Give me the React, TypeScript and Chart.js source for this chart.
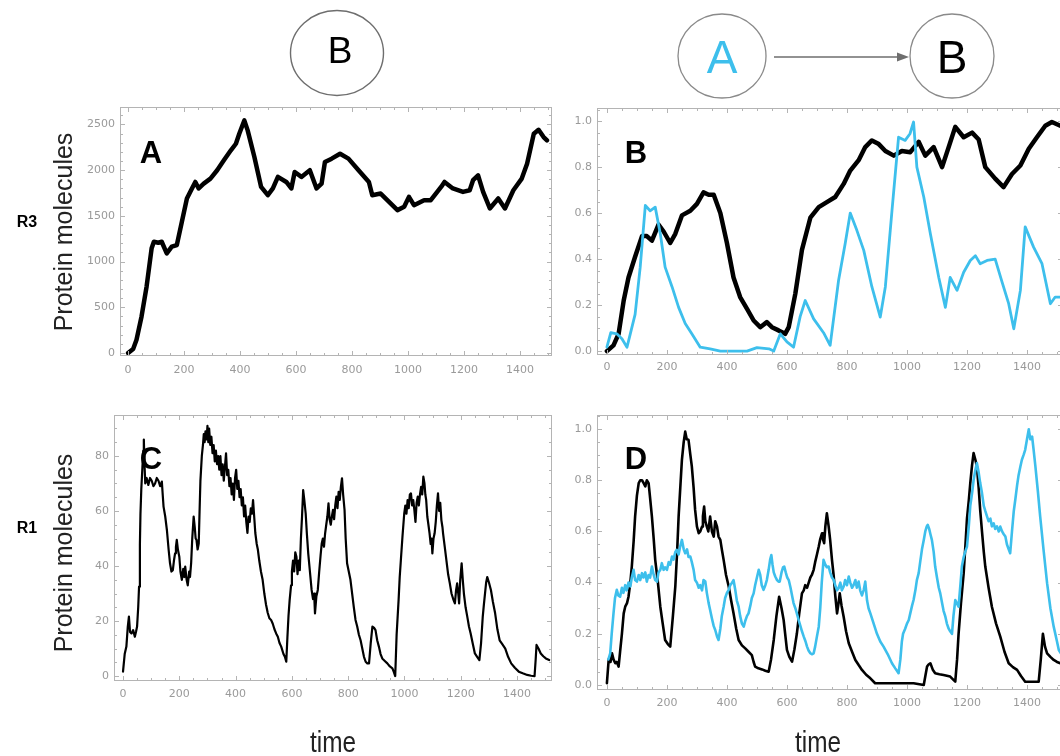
import React, { useEffect, useRef } from 'react';
import { Chart, registerables } from 'chart.js';

Chart.register(...registerables);

// ---------- tick labels ----------
const X_TICKS = [0, 200, 400, 600, 800, 1000, 1200, 1400];
const A_Y_TICKS = [0, 500, 1000, 1500, 2000, 2500];
const C_Y_TICKS = [0, 20, 40, 60, 80];
const FRAC_Y_TICKS = [0, 0.2, 0.4, 0.6, 0.8, 1.0];

// ---------- series: [time, value] ----------
const A_PROTEIN_B: [number, number][] = [
  [0, 0], [18, 44], [30, 145], [48, 400], [66, 727], [84, 1145], [92, 1217], [108, 1206], [120, 1217],
  [138, 1090], [156, 1163], [174, 1181], [192, 1435], [210, 1690], [228, 1800], [240, 1871], [252, 1800],
  [270, 1853], [294, 1908], [318, 1999], [342, 2108], [367, 2217], [385, 2289], [397, 2398], [415, 2544],
  [427, 2435], [451, 2144], [475, 1817], [499, 1726], [517, 1800], [535, 1926], [565, 1871], [583, 1800],
  [595, 1980], [619, 1926], [649, 1999], [673, 1800], [691, 1853], [703, 2090], [727, 2126], [757, 2180],
  [787, 2126], [823, 1999], [860, 1871], [872, 1726], [902, 1744], [932, 1653], [962, 1563], [986, 1599],
  [1003, 1708], [1021, 1617], [1057, 1672], [1081, 1672], [1118, 1817], [1130, 1871], [1160, 1800],
  [1196, 1762], [1220, 1780], [1232, 1890], [1250, 1944], [1268, 1762], [1292, 1581], [1322, 1690],
  [1346, 1581], [1376, 1780], [1406, 1908], [1425, 2071], [1449, 2398], [1466, 2442], [1484, 2362], [1496, 2326],
];

const B_PROTEIN_B: [number, number][] = [
  [0, 0], [22, 0.025], [39, 0.075], [56, 0.22], [72, 0.32], [94, 0.41], [117, 0.5], [133, 0.5], [150, 0.48],
  [172, 0.55], [189, 0.52], [211, 0.47], [228, 0.51], [250, 0.59], [278, 0.61], [300, 0.64], [322, 0.69],
  [339, 0.68], [356, 0.68], [378, 0.6], [400, 0.47], [422, 0.32], [444, 0.235], [467, 0.184], [489, 0.133],
  [511, 0.104], [533, 0.126], [550, 0.104], [572, 0.09], [594, 0.075], [606, 0.104], [628, 0.25], [650, 0.44],
  [678, 0.58], [706, 0.626], [733, 0.648], [761, 0.67], [789, 0.727], [811, 0.785], [839, 0.83], [861, 0.887],
  [883, 0.916], [906, 0.9], [928, 0.87], [956, 0.85], [983, 0.87], [1011, 0.865], [1039, 0.91], [1061, 0.85],
  [1089, 0.887], [1117, 0.8], [1139, 0.887], [1161, 0.975], [1189, 0.93], [1217, 0.95], [1239, 0.92],
  [1261, 0.8], [1294, 0.75], [1322, 0.713], [1350, 0.77], [1378, 0.807], [1406, 0.88], [1433, 0.93],
  [1461, 0.98], [1483, 0.996], [1511, 0.98],
];

const B_PROTEIN_A: [number, number][] = [
  [0, 0.017], [13, 0.08], [33, 0.075], [50, 0.054], [67, 0.017], [78, 0.075], [94, 0.16], [111, 0.365],
  [128, 0.633], [144, 0.61], [161, 0.626], [178, 0.51], [194, 0.365], [217, 0.28], [239, 0.19], [261, 0.12],
  [283, 0.075], [311, 0.017], [344, 0.01], [378, 0], [467, 0], [500, 0.015], [540, 0.01], [556, 0],
  [578, 0.075], [600, 0.04], [622, 0.017], [644, 0.15], [661, 0.22], [689, 0.14], [722, 0.08], [744, 0.025],
  [772, 0.307], [794, 0.467], [811, 0.6], [833, 0.525], [856, 0.438], [883, 0.28], [911, 0.148], [928, 0.28],
  [950, 0.61], [972, 0.93], [994, 0.916], [1010, 0.945], [1022, 0.996], [1033, 0.8], [1056, 0.67],
  [1078, 0.51], [1106, 0.32], [1128, 0.19], [1144, 0.32], [1167, 0.264], [1189, 0.343], [1211, 0.394],
  [1228, 0.415], [1244, 0.38], [1267, 0.394], [1294, 0.4], [1317, 0.3], [1339, 0.206], [1356, 0.097],
  [1378, 0.264], [1394, 0.54], [1422, 0.452], [1450, 0.38], [1478, 0.206], [1494, 0.235], [1511, 0.235],
];

const C_PROTEIN_B: [number, number][] = [
  [0, 1.6], [6, 8], [12, 10.7], [17, 18], [21, 21.6], [25, 16], [30, 15.5], [36, 16.7], [42, 14.3], [46, 16],
  [50, 18], [54, 25], [57, 32.5], [60, 48], [62, 59], [65, 68], [69, 76], [72, 82], [74, 86], [76, 78], [79, 70],
  [84, 72], [90, 69.5], [96, 72], [102, 71], [108, 69], [114, 70], [120, 72], [126, 71], [132, 69], [138, 70.7],
  [141, 66], [144, 61.6], [150, 58], [156, 53], [162, 46], [167, 41], [172, 38], [177, 38.5], [181, 42],
  [185, 44.6], [188, 47], [191, 49.5], [195, 46], [200, 43.4], [204, 38], [209, 35], [214, 39], [218, 36],
  [221, 39.8], [226, 35], [230, 33], [235, 38], [238, 36], [242, 41], [246, 50], [251, 58], [255, 54], [258, 50],
  [261, 49.5], [265, 46], [269, 48.2], [272, 60], [275, 71], [280, 80], [284, 84], [287, 88], [290, 85], [293, 89],
  [297, 86], [300, 91], [303, 85], [306, 90], [310, 84], [314, 87], [318, 81], [322, 84], [326, 78], [330, 82],
  [334, 77], [338, 80], [342, 75], [346, 80], [350, 73], [354, 77], [358, 71], [362, 76], [366, 81], [370, 73],
  [374, 75], [378, 69], [382, 72], [386, 66], [390, 70], [394, 64], [398, 72], [402, 75], [406, 68], [410, 71],
  [414, 65], [418, 68], [422, 62], [426, 65], [430, 58], [434, 62], [438, 56], [442, 52], [446, 58], [450, 56],
  [454, 61], [458, 59], [462, 64], [466, 58], [470, 52], [475, 48], [479, 46], [484, 42], [490, 38], [496, 35],
  [502, 30], [508, 26], [514, 23], [520, 21], [526, 20.4], [532, 19], [538, 17], [544, 15.5], [550, 14.3],
  [556, 12], [562, 10.7], [570, 8], [575, 7], [580, 5.2], [584, 14], [588, 22], [592, 27.6], [597, 33],
  [600, 38], [604, 42], [608, 38], [612, 45], [616, 43.4], [620, 37], [624, 42], [628, 38.5], [632, 50],
  [636, 58], [640, 67.6], [644, 64], [649, 59], [653, 52], [658, 44.6], [664, 38], [670, 31.3], [675, 28],
  [679, 30], [682, 22.8], [687, 29], [692, 31.3], [697, 38], [702, 44], [706, 48.2], [710, 50], [714, 47],
  [718, 51.9], [722, 55], [726, 58], [730, 62.8], [734, 57], [738, 55], [742, 58], [746, 60.4], [750, 57],
  [754, 62], [758, 65.2], [762, 61], [766, 67], [770, 64], [774, 68.8], [778, 71.9], [782, 66], [787, 60.4],
  [791, 50], [796, 41], [802, 38], [808, 35], [814, 30], [820, 25], [826, 20.4], [832, 18], [838, 15], [844, 13],
  [850, 10], [856, 7], [862, 5.2], [868, 4.6], [874, 4.6], [880, 12], [886, 18], [892, 17.5], [897, 16.7],
  [903, 13], [909, 10.7], [915, 8], [921, 6.4], [930, 5.5], [939, 4.6], [948, 3.5], [957, 2.8], [962, 1.5],
  [967, 0], [972, 15], [979, 27.6], [983, 36], [987, 42], [993, 51], [999, 59], [1003, 62], [1007, 59],
  [1011, 64], [1015, 61], [1019, 66], [1023, 66.4], [1027, 62], [1031, 64], [1035, 60.4], [1039, 56],
  [1043, 63], [1047, 65.2], [1051, 62], [1055, 66], [1059, 68.8], [1063, 66], [1067, 72.5], [1071, 70],
  [1074, 66], [1077, 64], [1081, 58], [1085, 55], [1089, 51.9], [1093, 48], [1096, 50], [1099, 44.6],
  [1103, 50], [1107, 51.9], [1111, 56], [1115, 62], [1119, 66.4], [1123, 60], [1127, 63], [1131, 56.7],
  [1135, 54], [1137, 51.9], [1143, 47], [1149, 42], [1155, 37], [1161, 33.7], [1167, 30], [1173, 28],
  [1179, 26.4], [1183, 31], [1187, 33.7], [1191, 30], [1194, 26.4], [1198, 35], [1203, 41], [1207, 35],
  [1211, 30], [1217, 25], [1223, 21.6], [1229, 18], [1235, 15.5], [1242, 12], [1250, 8.2], [1258, 7],
  [1266, 5.8], [1272, 12], [1278, 21.6], [1282, 26], [1286, 30], [1290, 34], [1294, 36], [1300, 34],
  [1307, 31.3], [1314, 27], [1322, 22.8], [1330, 17], [1338, 13], [1348, 11.5], [1358, 10], [1368, 7],
  [1379, 4.6], [1392, 3], [1406, 1.6], [1420, 1], [1436, 0.4], [1450, 0.1], [1462, 0], [1466, 6], [1469, 11.3],
  [1476, 10], [1484, 8.2], [1493, 7.2], [1502, 6.4], [1514, 5.8],
];

const D_PROTEIN_A: [number, number][] = [
  [5, 0.1], [11, 0.124], [16, 0.2], [22, 0.28], [27, 0.34], [33, 0.372], [38, 0.35], [44, 0.345], [50, 0.38],
  [55, 0.36], [61, 0.39], [66, 0.37], [72, 0.4], [78, 0.385], [83, 0.42], [89, 0.45], [94, 0.41], [100, 0.404],
  [106, 0.43], [111, 0.41], [117, 0.437], [122, 0.42], [128, 0.44], [133, 0.404], [139, 0.43], [144, 0.42],
  [150, 0.463], [156, 0.43], [161, 0.41], [167, 0.404], [172, 0.44], [178, 0.45], [183, 0.476], [189, 0.45],
  [194, 0.46], [200, 0.45], [206, 0.48], [211, 0.47], [217, 0.502], [222, 0.49], [228, 0.52], [233, 0.528],
  [239, 0.51], [244, 0.54], [250, 0.567], [256, 0.53], [261, 0.515], [267, 0.53], [272, 0.5], [278, 0.502],
  [283, 0.48], [289, 0.45], [294, 0.41], [300, 0.4], [306, 0.38], [311, 0.39], [317, 0.37], [322, 0.41],
  [328, 0.404], [333, 0.36], [339, 0.32], [344, 0.293], [350, 0.26], [356, 0.23], [361, 0.215], [367, 0.19],
  [372, 0.176], [378, 0.22], [383, 0.27], [389, 0.306], [394, 0.34], [400, 0.36], [406, 0.372], [411, 0.39],
  [417, 0.4], [422, 0.41], [428, 0.37], [433, 0.33], [439, 0.306], [444, 0.27], [450, 0.24], [456, 0.228],
  [461, 0.25], [467, 0.27], [472, 0.28], [478, 0.31], [483, 0.34], [489, 0.358], [494, 0.39], [500, 0.42],
  [506, 0.45], [511, 0.43], [516, 0.39], [522, 0.372], [528, 0.39], [533, 0.41], [539, 0.45], [544, 0.49],
  [548, 0.508], [552, 0.47], [556, 0.44], [561, 0.424], [567, 0.41], [572, 0.404], [576, 0.404], [582, 0.44],
  [587, 0.46], [591, 0.463], [596, 0.44], [601, 0.42], [606, 0.41], [612, 0.38], [617, 0.35], [622, 0.32],
  [628, 0.3], [633, 0.28], [639, 0.254], [645, 0.23], [650, 0.21], [656, 0.189], [662, 0.17], [667, 0.15],
  [672, 0.135], [678, 0.124], [683, 0.12], [689, 0.124], [694, 0.15], [700, 0.19], [706, 0.228], [711, 0.3],
  [716, 0.4], [722, 0.489], [728, 0.47], [733, 0.46], [739, 0.463], [744, 0.44], [750, 0.42], [756, 0.41],
  [761, 0.39], [767, 0.37], [772, 0.378], [778, 0.4], [783, 0.37], [789, 0.385], [794, 0.41], [800, 0.39],
  [806, 0.424], [811, 0.4], [817, 0.38], [822, 0.39], [828, 0.41], [833, 0.38], [839, 0.404], [844, 0.37],
  [850, 0.35], [856, 0.372], [861, 0.404], [867, 0.33], [872, 0.3], [878, 0.28], [889, 0.24], [900, 0.2],
  [911, 0.17], [922, 0.15], [936, 0.12], [950, 0.085], [961, 0.065], [972, 0.046], [978, 0.1], [983, 0.17],
  [987, 0.2], [994, 0.22], [1000, 0.24], [1006, 0.254], [1011, 0.28], [1017, 0.31], [1022, 0.332], [1028, 0.37],
  [1033, 0.41], [1039, 0.437], [1044, 0.48], [1050, 0.53], [1056, 0.567], [1061, 0.6], [1066, 0.62],
  [1069, 0.626], [1074, 0.61], [1078, 0.59], [1083, 0.567], [1089, 0.52], [1094, 0.463], [1100, 0.42],
  [1106, 0.38], [1111, 0.358], [1117, 0.32], [1122, 0.29], [1128, 0.267], [1133, 0.24], [1139, 0.22],
  [1144, 0.21], [1150, 0.2], [1155, 0.27], [1161, 0.332], [1166, 0.32], [1172, 0.306], [1178, 0.39],
  [1183, 0.463], [1189, 0.5], [1194, 0.52], [1200, 0.541], [1206, 0.62], [1211, 0.7], [1217, 0.75], [1222, 0.8],
  [1228, 0.84], [1233, 0.867], [1239, 0.83], [1244, 0.79], [1250, 0.75], [1256, 0.7], [1261, 0.68],
  [1267, 0.658], [1272, 0.64], [1278, 0.65], [1283, 0.62], [1289, 0.632], [1294, 0.61], [1300, 0.62],
  [1306, 0.6], [1311, 0.619], [1317, 0.6], [1322, 0.59], [1328, 0.58], [1333, 0.55], [1339, 0.53],
  [1344, 0.515], [1350, 0.6], [1356, 0.68], [1361, 0.724], [1367, 0.78], [1372, 0.82], [1378, 0.854],
  [1383, 0.88], [1389, 0.9], [1394, 0.919], [1400, 0.96], [1406, 0.999], [1411, 0.96], [1417, 0.971],
  [1422, 0.92], [1428, 0.854], [1436, 0.76], [1444, 0.658], [1455, 0.53], [1467, 0.398], [1478, 0.3],
  [1489, 0.228], [1500, 0.17], [1506, 0.137], [1515, 0.12],
];

const D_PROTEIN_B: [number, number][] = [
  [0, 0.007], [6, 0.1], [12, 0.09], [17, 0.124], [22, 0.1], [28, 0.085], [33, 0.09], [39, 0.072], [44, 0.13],
  [50, 0.2], [56, 0.28], [61, 0.306], [67, 0.32], [72, 0.345], [78, 0.4], [83, 0.463], [89, 0.56], [94, 0.658],
  [100, 0.74], [106, 0.789], [111, 0.8], [117, 0.8], [122, 0.79], [128, 0.776], [133, 0.8], [139, 0.789],
  [144, 0.73], [150, 0.658], [156, 0.57], [161, 0.489], [170, 0.4], [178, 0.306], [186, 0.24], [194, 0.176],
  [203, 0.16], [211, 0.15], [220, 0.27], [228, 0.385], [234, 0.52], [239, 0.658], [245, 0.78], [250, 0.88],
  [256, 0.95], [261, 0.99], [266, 0.96], [272, 0.958], [278, 0.9], [283, 0.854], [289, 0.77], [294, 0.684],
  [300, 0.62], [306, 0.593], [311, 0.6], [317, 0.619], [320, 0.66], [324, 0.697], [328, 0.64], [333, 0.619],
  [338, 0.6], [344, 0.658], [350, 0.6], [356, 0.58], [361, 0.64], [367, 0.619], [372, 0.58], [378, 0.567],
  [383, 0.53], [389, 0.489], [397, 0.43], [406, 0.385], [414, 0.33], [422, 0.28], [431, 0.22], [439, 0.176],
  [450, 0.155], [461, 0.143], [472, 0.13], [483, 0.117], [489, 0.09], [494, 0.072], [505, 0.065], [517, 0.061],
  [528, 0.056], [539, 0.052], [547, 0.1], [556, 0.176], [565, 0.27], [574, 0.345], [582, 0.3], [589, 0.254],
  [595, 0.19], [600, 0.137], [608, 0.11], [617, 0.091], [625, 0.14], [633, 0.2], [641, 0.28], [650, 0.358],
  [656, 0.37], [661, 0.39], [667, 0.38], [672, 0.398], [678, 0.42], [683, 0.43], [689, 0.45], [694, 0.48],
  [700, 0.51], [706, 0.541], [711, 0.57], [717, 0.593], [720, 0.57], [724, 0.554], [728, 0.62], [733, 0.671],
  [739, 0.62], [744, 0.567], [750, 0.49], [756, 0.424], [761, 0.35], [767, 0.28], [772, 0.32], [776, 0.358],
  [782, 0.31], [789, 0.267], [797, 0.21], [806, 0.163], [817, 0.13], [828, 0.098], [839, 0.078], [850, 0.059],
  [864, 0.04], [878, 0.026], [894, 0.007], [1022, 0.007], [1056, 0], [1062, 0.04], [1067, 0.072], [1072, 0.08],
  [1078, 0.085], [1086, 0.06], [1094, 0.046], [1108, 0.042], [1122, 0.039], [1133, 0.036], [1144, 0.033],
  [1155, 0.02], [1161, 0.013], [1167, 0.1], [1172, 0.2], [1180, 0.32], [1189, 0.437], [1195, 0.55], [1200, 0.65],
  [1206, 0.72], [1211, 0.789], [1217, 0.86], [1222, 0.906], [1228, 0.88], [1233, 0.854], [1239, 0.77],
  [1244, 0.684], [1250, 0.6], [1256, 0.52], [1261, 0.463], [1272, 0.38], [1283, 0.306], [1297, 0.24],
  [1311, 0.189], [1325, 0.13], [1339, 0.085], [1353, 0.07], [1367, 0.059], [1380, 0.035], [1394, 0.013],
  [1439, 0.013], [1446, 0.1], [1453, 0.2], [1460, 0.15], [1467, 0.124], [1478, 0.11], [1489, 0.098],
  [1500, 0.09], [1511, 0.085],
];

// ---------- styles ----------
const BLACK = '#000000';
const BLUE = '#3dbfec';
const TICK_LABEL_COLOR = '#9a9a9a';
const FRAME_COLOR = '#b4b4b4';

// frame + inward ticks on all four sides, using the chart's own scales
const frameTicks = {
  id: 'frameTicks',
  afterDatasetsDraw(chart: any, _args: any, opts: any) {
    const { ctx, chartArea: a, scales } = chart;
    ctx.save();
    ctx.strokeStyle = FRAME_COLOR;
    ctx.lineWidth = 1;
    ctx.strokeRect(Math.round(a.left) + 0.5, Math.round(a.top) + 0.5,
      Math.round(a.right - a.left) - 1, Math.round(a.bottom - a.top) - 1);
    const line = (x1: number, y1: number, x2: number, y2: number) => {
      ctx.beginPath(); ctx.moveTo(x1, y1); ctx.lineTo(x2, y2); ctx.stroke();
    };
    const run = (scale: any, minor: number, major: number, horizontal: boolean) => {
      const start = Math.ceil(scale.min / minor);
      const end = Math.floor(scale.max / minor);
      for (let i = start; i <= end; i++) {
        const v = i * minor;
        const r = v / major;
        const isMajor = Math.abs(r - Math.round(r)) < 1e-6;
        const len = isMajor ? 5 : 3;
        const p = Math.round(scale.getPixelForValue(v)) + 0.5;
        if (horizontal) {
          line(p, a.bottom, p, a.bottom - len);
          line(p, a.top, p, a.top + len);
        } else {
          line(a.left, p, a.left + len, p);
          line(a.right, p, a.right - len, p);
        }
      }
    };
    run(scales.x, opts.xMinor, opts.xMajor, true);
    run(scales.y, opts.yMinor, opts.yMajor, false);
    ctx.restore();
  },
};

type Series = { data: [number, number][]; color: string; width: number };
type PanelProps = {
  frame: { l: number; t: number; r: number; b: number };
  xRange: [number, number];
  yRange: [number, number];
  yTicks: number[];
  yDecimals: number;
  yMinor: number;
  yMajor: number;
  xLabelPad: number;
  series: Series[];
};

function Panel(p: PanelProps) {
  const ref = useRef<HTMLCanvasElement>(null);
  const padL = 60, padT = 14, padR = 24, padB = 34;
  const w = p.frame.r - p.frame.l + padL + padR;
  const h = p.frame.b - p.frame.t + padT + padB;
  useEffect(() => {
    const chart = new Chart(ref.current as HTMLCanvasElement, {
      type: 'line',
      data: {
        datasets: p.series.map((s) => ({
          data: s.data.map(([x, y]) => ({ x, y })),
          borderColor: s.color,
          borderWidth: s.width,
          pointRadius: 0,
          fill: false,
          tension: 0,
          borderJoinStyle: 'round',
          borderCapStyle: 'round',
        })),
      },
      options: {
        responsive: false,
        animation: false,
        events: [],
        layout: { padding: { left: 0, top: padT, right: padR, bottom: 0 } },
        plugins: {
          legend: { display: false },
          tooltip: { enabled: false },
          frameTicks: { xMinor: 50, xMajor: 200, yMinor: p.yMinor, yMajor: p.yMajor },
        } as any,
        scales: {
          x: {
            type: 'linear',
            min: p.xRange[0],
            max: p.xRange[1],
            grid: { display: false, drawTicks: false },
            border: { display: false },
            afterFit: (s: any) => { s.height = padB; },
            afterBuildTicks: (s: any) => { s.ticks = X_TICKS.map((v) => ({ value: v })); },
            ticks: {
              autoSkip: false,
              maxRotation: 0,
              padding: p.xLabelPad,
              color: TICK_LABEL_COLOR,
              font: { family: 'DejaVu Sans', size: 11 },
              callback: (v: any) => String(v),
            },
          },
          y: {
            type: 'linear',
            min: p.yRange[0],
            max: p.yRange[1],
            grid: { display: false, drawTicks: false },
            border: { display: false },
            afterFit: (s: any) => { s.width = padL; },
            afterBuildTicks: (s: any) => { s.ticks = p.yTicks.map((v) => ({ value: v })); },
            ticks: {
              autoSkip: false,
              padding: 5,
              color: TICK_LABEL_COLOR,
              font: { family: 'DejaVu Sans', size: 11 },
              callback: (v: any) => Number(v).toFixed(p.yDecimals),
            },
          },
        },
      } as any,
      plugins: [frameTicks],
    });
    return () => chart.destroy();
  }, []);
  return (
    <canvas
      ref={ref}
      width={w}
      height={h}
      style={{ position: 'absolute', left: p.frame.l - padL, top: p.frame.t - padT, width: w, height: h }}
    />
  );
}

export default function App() {
  const sans = "'Liberation Sans', Arial, Helvetica, sans-serif";
  return (
    <div style={{ position: 'absolute', left: 0, top: 0, width: 1060, height: 756, overflow: 'hidden', background: '#fff' }}>
      <Panel
        frame={{ l: 120, t: 107, r: 552, b: 356 }}
        xRange={[-29, 1514]}
        yRange={[-33, 2691]}
        yTicks={A_Y_TICKS}
        yDecimals={0}
        yMinor={100}
        yMajor={500}
        xLabelPad={8}
        series={[{ data: A_PROTEIN_B, color: BLACK, width: 4.5 }]}
      />
      <Panel
        frame={{ l: 597, t: 108, r: 1063, b: 355 }}
        xRange={[-33, 1520]}
        yRange={[-0.017, 1.057]}
        yTicks={FRAC_Y_TICKS}
        yDecimals={1}
        yMinor={0.05}
        yMajor={0.2}
        xLabelPad={6}
        series={[
          { data: B_PROTEIN_A, color: BLUE, width: 2.8 },
          { data: B_PROTEIN_B, color: BLACK, width: 4.5 },
        ]}
      />
      <Panel
        frame={{ l: 114, t: 415, r: 552, b: 681 }}
        xRange={[-32, 1524]}
        yRange={[-1.8, 94.9]}
        yTicks={C_Y_TICKS}
        yDecimals={0}
        yMinor={5}
        yMajor={20}
        xLabelPad={7}
        series={[{ data: C_PROTEIN_B, color: BLACK, width: 2.2 }]}
      />
      <Panel
        frame={{ l: 597, t: 415, r: 1063, b: 690 }}
        xRange={[-33, 1520]}
        yRange={[-0.0195, 1.055]}
        yTicks={FRAC_Y_TICKS}
        yDecimals={1}
        yMinor={0.05}
        yMajor={0.2}
        xLabelPad={7}
        series={[
          { data: D_PROTEIN_A, color: BLUE, width: 2.6 },
          { data: D_PROTEIN_B, color: BLACK, width: 2.6 },
        ]}
      />
      <svg width={1060} height={756} style={{ position: 'absolute', left: 0, top: 0, pointerEvents: 'none' }}>
        {/* network diagrams */}
        <ellipse cx={337} cy={53} rx={46.5} ry={42.5} fill="none" stroke="#6e6e6e" strokeWidth={1.4} />
        <text x={340} y={63} textAnchor="middle" fontFamily={sans} fontSize={37} fill="#000">B</text>
        <ellipse cx={722} cy={56} rx={44} ry={42} fill="none" stroke="#8a8a8a" strokeWidth={1.3} />
        <text x={722} y={73} textAnchor="middle" fontFamily={sans} fontSize={46} fill={BLUE}>A</text>
        <line x1={774} y1={57} x2={900} y2={57} stroke="#6e6e6e" strokeWidth={1.3} />
        <polygon points="897,52.5 909,57 897,61.5" fill="#6e6e6e" />
        <ellipse cx={952} cy={56} rx={42} ry={42} fill="none" stroke="#8a8a8a" strokeWidth={1.3} />
        <text x={952} y={73} textAnchor="middle" fontFamily={sans} fontSize={46} fill="#000">B</text>

        {/* panel letters */}
        <text x={151} y={163} textAnchor="middle" fontFamily={sans} fontWeight="bold" fontSize={31} fill="#000">A</text>
        <text x={636} y={163} textAnchor="middle" fontFamily={sans} fontWeight="bold" fontSize={31} fill="#000">B</text>
        <text x={151} y={469} textAnchor="middle" fontFamily={sans} fontWeight="bold" fontSize={31} fill="#000">C</text>
        <text x={636} y={469} textAnchor="middle" fontFamily={sans} fontWeight="bold" fontSize={31} fill="#000">D</text>

        {/* row labels */}
        <text x={27} y={227} textAnchor="middle" fontFamily={sans} fontWeight="bold" fontSize={16} fill="#000">R3</text>
        <text x={27} y={533} textAnchor="middle" fontFamily={sans} fontWeight="bold" fontSize={16} fill="#000">R1</text>

        {/* axis titles */}
        <text transform="translate(72,232) rotate(-90)" textAnchor="middle" fontFamily={sans} fontSize={25} fill="#222">Protein molecules</text>
        <text transform="translate(72,553) rotate(-90)" textAnchor="middle" fontFamily={sans} fontSize={25} fill="#222">Protein molecules</text>
        <text transform="translate(333,752) scale(0.84,1)" textAnchor="middle" fontFamily={sans} fontSize={29} fill="#222">time</text>
        <text transform="translate(818,752) scale(0.84,1)" textAnchor="middle" fontFamily={sans} fontSize={29} fill="#222">time</text>
      </svg>
    </div>
  );
}
